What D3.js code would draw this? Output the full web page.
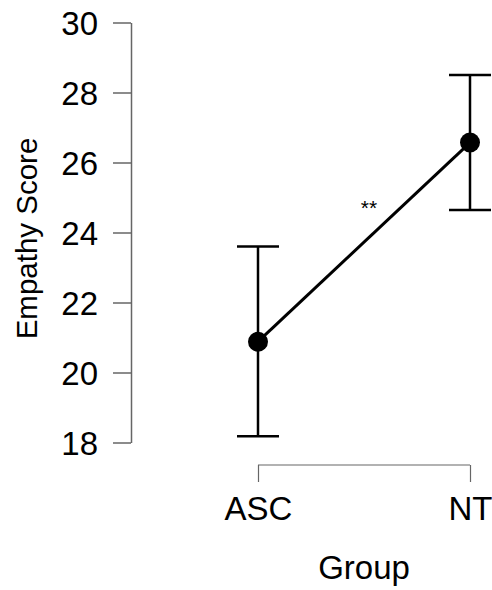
<!DOCTYPE html>
<html lang="en">
<head>
<meta charset="utf-8">
<title>Empathy Score by Group</title>
<script src="https://d3js.org/d3.v7.min.js"></script>
<style>
  body { margin: 0; background: #fff; }
  text { font-family: "Liberation Sans", Arial, sans-serif; fill: #000; }
</style>
</head>
<body>
<script>
// data
var groups = ["ASC", "NT"];
var means = [20.88, 26.57];
var lower = [18.18, 24.64];
var upper = [23.6, 28.5];
var yTicks = [18, 20, 22, 24, 26, 28, 30];
var sigLabel = "**";

var width = 492, height = 590;

var svg = d3.select("body").append("svg")
    .attr("width", width)
    .attr("height", height);

var x = d3.scalePoint().domain(groups).range([258, 470]);
var y = d3.scaleLinear().domain([18, 30]).range([442.5, 22.5]);

var axisColor = "#666";

// y axis, R style
var yAxis = svg.append("g")
    .attr("transform", "translate(131,0)")
    .call(d3.axisLeft(y).tickValues(yTicks).tickSize(18).tickPadding(15).tickSizeOuter(0));
yAxis.select(".domain").attr("stroke", axisColor).attr("stroke-width", 1.5);
yAxis.selectAll(".tick line").attr("stroke", axisColor).attr("stroke-width", 1.5);
yAxis.selectAll(".tick text")
    .style("font-size", "33px")
    .attr("dy", "0.36em");

// x axis bracket
var xAxis = svg.append("g")
    .attr("transform", "translate(0,465)")
    .call(d3.axisBottom(x).tickSize(17).tickPadding(15).tickSizeOuter(0));
xAxis.select(".domain").attr("stroke", axisColor).attr("stroke-width", 1.2)
    .attr("d", "M" + x("ASC") + ",0H" + x("NT"));
xAxis.selectAll(".tick line").attr("stroke", axisColor).attr("stroke-width", 1.2);
xAxis.selectAll(".tick text")
    .style("font-size", "33px")
    .attr("dy", "0.69em");

// axis titles
svg.append("text")
    .attr("x", 364)
    .attr("y", 579)
    .attr("text-anchor", "middle")
    .style("font-size", "33px")
    .text("Group");

svg.append("text")
    .attr("transform", "translate(37," + 238.5 + ") rotate(-90)")
    .attr("text-anchor", "middle")
    .style("font-size", "29.5px")
    .text("Empathy Score");

var data = groups.map(function(g, i) {
  return { group: g, mean: means[i], lo: lower[i], hi: upper[i] };
});

// error bars
var bars = svg.append("g").attr("stroke", "#000").attr("stroke-width", 2.5);
bars.selectAll(".stem").data(data).enter().append("line")
    .attr("x1", function(d) { return x(d.group); })
    .attr("x2", function(d) { return x(d.group); })
    .attr("y1", function(d) { return y(d.lo); })
    .attr("y2", function(d) { return y(d.hi); });
bars.selectAll(".capHi").data(data).enter().append("line")
    .attr("x1", function(d) { return x(d.group) - 21; })
    .attr("x2", function(d) { return x(d.group) + 21; })
    .attr("y1", function(d) { return y(d.hi); })
    .attr("y2", function(d) { return y(d.hi); });
bars.selectAll(".capLo").data(data).enter().append("line")
    .attr("x1", function(d) { return x(d.group) - 21; })
    .attr("x2", function(d) { return x(d.group) + 21; })
    .attr("y1", function(d) { return y(d.lo); })
    .attr("y2", function(d) { return y(d.lo); });

// mean line
var line = d3.line()
    .x(function(d) { return x(d.group); })
    .y(function(d) { return y(d.mean); });

svg.append("path")
    .datum(data)
    .attr("fill", "none")
    .attr("stroke", "#000")
    .attr("stroke-width", 3)
    .attr("d", line);

svg.selectAll(".dot").data(data).enter().append("circle")
    .attr("cx", function(d) { return x(d.group); })
    .attr("cy", function(d) { return y(d.mean); })
    .attr("r", 10)
    .attr("fill", "#000");

// significance marker
svg.append("text")
    .attr("x", (x("ASC") + x("NT")) / 2 + 5)
    .attr("y", y(24.5))
    .attr("text-anchor", "middle")
    .style("font-size", "21px")
    .text(sigLabel);
</script>
</body>
</html>
